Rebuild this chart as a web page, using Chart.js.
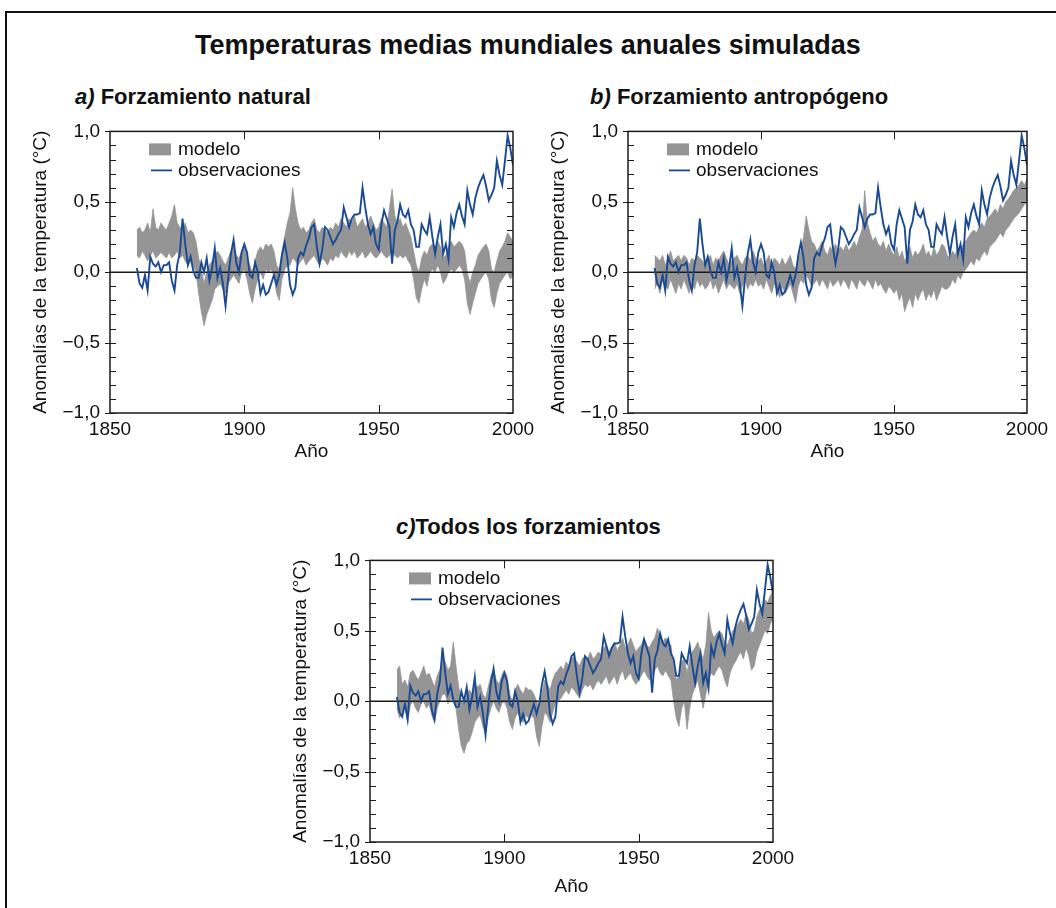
<!DOCTYPE html>
<html>
<head>
<meta charset="utf-8">
<script src="https://cdn.jsdelivr.net/npm/chart.js@4.4.1/dist/chart.umd.min.js"></script>
<style>
  body { margin: 0; background: #fff; }
  #page { position: relative; width: 1056px; height: 908px; overflow: hidden; font-family: "Liberation Sans", Arial, sans-serif; color: #111; }
  #frame { position: absolute; left: 5px; top: 11px; width: 1100px; height: 1000px; border-left: 2px solid #111; border-top: 2px solid #111; }
  .txt { position: absolute; white-space: nowrap; font-weight: bold; }
  .txt i { font-style: italic; }
  canvas { position: absolute; }
</style>
</head>
<body>
<div id="page">
  <div id="frame"></div>
  <div class="txt" style="left:0;width:1056px;text-align:center;top:30px;font-size:27px;line-height:30px;">Temperaturas medias mundiales anuales simuladas</div>
  <div class="txt" style="left:75px;top:86px;font-size:22px;line-height:22px;"><i>a)</i> Forzamiento natural</div>
  <div class="txt" style="left:590px;top:86px;font-size:22px;line-height:22px;"><i>b)</i> Forzamiento antropógeno</div>
  <div class="txt" style="left:396px;top:516px;font-size:22px;line-height:22px;"><i>c)</i>Todos los forzamientos</div>
  <canvas id="chartA" width="520" height="363" style="left:20px;top:110px;"></canvas>
  <canvas id="chartB" width="516" height="363" style="left:538px;top:110px;"></canvas>
  <canvas id="chartC" width="520" height="363" style="left:280px;top:539px;"></canvas>
</div>
<script>
// años 1860-2000
const years = Array.from({ length: 141 }, (_, i) => 1860 + i);

// observaciones (igual en los tres paneles)
const obs = [
  0.03, -0.08, -0.11, -0.02, -0.13, 0.11, 0.06, 0.04, 0.07, 0.00,
  0.05, 0.05, 0.07, -0.06, -0.13, 0.05, 0.14, 0.38, 0.20, 0.05,
  0.11, 0.01, -0.04, -0.04, 0.07, 0.00, 0.10, -0.06, 0.03, 0.17,
  -0.04, 0.03, -0.08, -0.24, -0.04, 0.13, 0.23, 0.07, 0.00, 0.14,
  0.20, 0.14, -0.02, -0.04, 0.07, 0.00, -0.15, -0.09, -0.16, -0.14,
  -0.08, -0.02, -0.09, -0.02, 0.12, 0.21, 0.10, -0.09, -0.16, -0.11,
  0.10, 0.14, 0.12, 0.19, 0.24, 0.32, 0.34, 0.18, 0.06, 0.16,
  0.32, 0.30, 0.25, 0.20, 0.23, 0.27, 0.30, 0.46, 0.39, 0.32,
  0.38, 0.41, 0.41, 0.42, 0.60, 0.46, 0.34, 0.27, 0.32, 0.20,
  0.16, 0.34, 0.44, 0.38, 0.32, 0.06, 0.30, 0.36, 0.48, 0.41,
  0.39, 0.44, 0.34, 0.30, 0.18, 0.18, 0.34, 0.30, 0.27, 0.39,
  0.25, 0.13, 0.25, 0.34, 0.13, 0.20, 0.09, 0.39, 0.32, 0.42,
  0.48, 0.40, 0.34, 0.58, 0.48, 0.41, 0.53, 0.60, 0.65, 0.69,
  0.61, 0.51, 0.55, 0.60, 0.79, 0.69, 0.62, 0.79, 0.97, 0.88,
  0.76
];

// a) forzamiento natural: rango del modelo
const natLo = [
  0.12, 0.10, 0.15, 0.12, 0.08, 0.12, 0.15, 0.10, 0.12, 0.14,
  0.12, 0.10, 0.14, 0.10, 0.12, 0.15, 0.10, 0.12, 0.08, 0.05,
  0.08, 0.05, 0.00, -0.15, -0.28, -0.38, -0.30, -0.25, -0.20, -0.12,
  -0.10, -0.08, -0.12, -0.15, -0.08, -0.05, -0.02, -0.05, -0.08, 0.00,
  0.02, -0.05, -0.15, -0.22, -0.12, -0.05, 0.00, -0.05, 0.02, 0.00,
  0.02, -0.02, -0.15, -0.20, -0.05, 0.02, 0.05, 0.05, 0.10, 0.08,
  0.05, 0.08, 0.10, 0.05, 0.08, 0.10, 0.12, 0.08, 0.05, 0.10,
  0.08, 0.05, 0.10, 0.08, 0.12, 0.10, 0.15, 0.12, 0.10, 0.15,
  0.12, 0.15, 0.10, 0.12, 0.15, 0.10, 0.12, 0.15, 0.12, 0.10,
  0.12, 0.15, 0.12, 0.10, 0.12, 0.15, 0.12, 0.10, 0.12, 0.10,
  0.12, 0.08, 0.05, -0.05, -0.18, -0.22, -0.12, -0.05, -0.10, 0.00,
  0.02, 0.00, 0.05, 0.00, -0.08, -0.05, 0.00, 0.02, 0.00, 0.02,
  0.05, 0.02, -0.05, -0.22, -0.30, -0.22, -0.15, -0.08, -0.05, -0.02,
  0.00, -0.05, -0.20, -0.25, -0.15, -0.08, -0.05, -0.02, 0.00, -0.05,
  -0.02
];
const natHi = [
  0.30, 0.32, 0.28, 0.30, 0.35, 0.28, 0.45, 0.32, 0.30, 0.35,
  0.32, 0.30, 0.35, 0.40, 0.48, 0.35, 0.32, 0.30, 0.35, 0.28,
  0.30, 0.28, 0.22, 0.10, 0.02, -0.08, 0.00, 0.05, 0.08, 0.12,
  0.15, 0.12, 0.08, 0.05, 0.10, 0.15, 0.18, 0.12, 0.10, 0.15,
  0.20, 0.12, 0.05, 0.00, 0.08, 0.15, 0.18, 0.15, 0.20, 0.18,
  0.20, 0.15, 0.05, 0.02, 0.15, 0.25, 0.35, 0.42, 0.60, 0.45,
  0.35, 0.30, 0.32, 0.28, 0.30, 0.35, 0.38, 0.30, 0.28, 0.32,
  0.30, 0.28, 0.32, 0.30, 0.35, 0.32, 0.38, 0.35, 0.32, 0.38,
  0.35, 0.40, 0.32, 0.35, 0.38, 0.32, 0.35, 0.40, 0.35, 0.30,
  0.32, 0.38, 0.35, 0.32, 0.45, 0.59, 0.40, 0.35, 0.38, 0.32,
  0.35, 0.30, 0.25, 0.15, 0.05, 0.00, 0.10, 0.15, 0.12, 0.18,
  0.20, 0.18, 0.22, 0.18, 0.10, 0.12, 0.18, 0.22, 0.18, 0.20,
  0.22, 0.20, 0.15, 0.00, -0.08, 0.00, 0.05, 0.12, 0.15, 0.18,
  0.20, 0.15, 0.02, 0.00, 0.08, 0.15, 0.18, 0.22, 0.28, 0.25,
  0.22
];

// b) forzamiento antropógeno
const antLo = [
  -0.12, -0.08, -0.15, -0.05, -0.10, -0.12, -0.05, -0.10, -0.15, -0.08,
  -0.12, -0.05, -0.10, -0.15, -0.08, -0.12, -0.05, -0.10, -0.08, -0.12,
  -0.10, -0.05, -0.12, -0.08, -0.15, -0.10, -0.05, -0.12, -0.08, -0.10,
  -0.12, -0.08, -0.15, -0.10, -0.05, -0.12, -0.08, -0.10, -0.05, -0.10,
  -0.08, -0.12, -0.05, -0.10, -0.15, -0.08, -0.12, -0.18, -0.10, -0.15,
  -0.12, -0.08, -0.15, -0.22, -0.10, -0.05, -0.08, -0.02, -0.05, -0.10,
  -0.08, -0.05, -0.10, -0.05, -0.08, -0.12, -0.05, -0.10, -0.08, -0.05,
  -0.10, -0.05, -0.08, -0.12, -0.05, -0.08, -0.12, -0.05, -0.08, -0.10,
  -0.05, -0.08, -0.12, -0.05, -0.10, -0.08, -0.12, -0.15, -0.10, -0.12,
  -0.15, -0.12, -0.20, -0.15, -0.28, -0.22, -0.18, -0.25, -0.15, -0.20,
  -0.15, -0.12, -0.20, -0.15, -0.18, -0.12, -0.20, -0.15, -0.10, -0.12,
  -0.12, -0.10, -0.05, -0.08, -0.02, -0.05, 0.00, 0.02, 0.05, 0.08,
  0.05, 0.10, 0.08, 0.12, 0.15, 0.12, 0.18, 0.20, 0.22, 0.25,
  0.28, 0.25, 0.30, 0.32, 0.35, 0.38, 0.40, 0.42, 0.45, 0.48,
  0.50
];
const antHi = [
  0.12, 0.10, 0.08, 0.12, 0.05, 0.10, 0.15, 0.08, 0.10, 0.12,
  0.08, 0.12, 0.10, 0.05, 0.10, 0.08, 0.12, 0.10, 0.08, 0.05,
  0.08, 0.12, 0.05, 0.10, 0.08, 0.12, 0.15, 0.10, 0.05, 0.08,
  0.10, 0.12, 0.08, 0.05, 0.10, 0.12, 0.08, 0.15, 0.10, 0.08,
  0.10, 0.05, 0.08, 0.12, 0.05, 0.10, 0.08, 0.05, 0.10, 0.05,
  0.08, 0.12, 0.05, 0.02, 0.10, 0.15, 0.25, 0.40, 0.30, 0.22,
  0.20, 0.15, 0.18, 0.22, 0.15, 0.12, 0.18, 0.15, 0.20, 0.15,
  0.18, 0.15, 0.20, 0.15, 0.18, 0.22, 0.18, 0.25, 0.30, 0.58,
  0.35, 0.28, 0.22, 0.25, 0.20, 0.18, 0.22, 0.15, 0.20, 0.15,
  0.12, 0.18, 0.10, 0.15, 0.08, 0.12, 0.18, 0.10, 0.15, 0.12,
  0.15, 0.20, 0.12, 0.15, 0.10, 0.18, 0.12, 0.15, 0.20, 0.18,
  0.12, 0.10, 0.15, 0.12, 0.18, 0.15, 0.20, 0.22, 0.25, 0.28,
  0.30, 0.28, 0.32, 0.35, 0.32, 0.38, 0.40, 0.42, 0.45, 0.42,
  0.48, 0.45, 0.50, 0.52, 0.55, 0.58, 0.60, 0.62, 0.65, 0.62,
  0.66
];

// c) todos los forzamientos
const allLo = [
  -0.05, -0.12, -0.08, -0.02, -0.15, -0.03, 0.00, -0.05, -0.08, -0.02,
  0.00, -0.05, -0.02, -0.10, -0.15, -0.05, 0.00, 0.05, 0.05, -0.02,
  0.02, 0.00, -0.05, -0.20, -0.32, -0.37, -0.30, -0.28, -0.22, -0.15,
  -0.12, -0.10, -0.18, -0.22, -0.12, -0.05, 0.00, -0.05, -0.08, -0.02,
  0.00, -0.05, -0.15, -0.20, -0.12, -0.08, -0.12, -0.15, -0.10, -0.12,
  -0.10, -0.12, -0.25, -0.32, -0.18, -0.08, -0.10, -0.15, -0.08, -0.02,
  0.00, 0.02, 0.05, 0.08, 0.05, 0.10, 0.08, 0.05, 0.02, 0.08,
  0.12, 0.10, 0.12, 0.08, 0.12, 0.15, 0.12, 0.15, 0.18, 0.12,
  0.15, 0.18, 0.12, 0.18, 0.22, 0.15, 0.18, 0.20, 0.15, 0.12,
  0.15, 0.18, 0.22, 0.18, 0.15, 0.18, 0.22, 0.25, 0.20, 0.18,
  0.22, 0.18, 0.15, 0.00, -0.12, -0.18, -0.05, 0.00, -0.20, -0.05,
  0.05, 0.10, 0.15, 0.05, -0.05, 0.05, 0.15, 0.20, 0.18, 0.22,
  0.25, 0.22, 0.15, 0.10, 0.20, 0.25, 0.28, 0.32, 0.35, 0.30,
  0.38, 0.32, 0.22, 0.25, 0.35, 0.40, 0.45, 0.50, 0.48, 0.55,
  0.58
];
const allHi = [
  0.22, 0.25, 0.12, 0.15, 0.10, 0.20, 0.22, 0.18, 0.15, 0.20,
  0.25, 0.18, 0.20, 0.15, 0.10, 0.18, 0.22, 0.30, 0.28, 0.22,
  0.25, 0.42, 0.25, 0.10, 0.00, -0.02, 0.05, 0.08, 0.05, 0.12,
  0.10, 0.12, 0.05, 0.02, 0.10, 0.18, 0.22, 0.15, 0.12, 0.18,
  0.22, 0.18, 0.05, 0.00, 0.08, 0.12, 0.08, 0.05, 0.10, 0.08,
  0.08, 0.05, 0.00, -0.05, 0.05, 0.15, 0.12, 0.08, 0.15, 0.20,
  0.22, 0.25, 0.22, 0.28, 0.25, 0.30, 0.32, 0.28, 0.25, 0.30,
  0.32, 0.30, 0.35, 0.30, 0.32, 0.35, 0.33, 0.38, 0.40, 0.35,
  0.38, 0.42, 0.36, 0.40, 0.45, 0.38, 0.40, 0.45, 0.40, 0.35,
  0.38, 0.40, 0.45, 0.40, 0.38, 0.42, 0.45, 0.52, 0.45, 0.42,
  0.45, 0.42, 0.40, 0.25, 0.15, 0.18, 0.28, 0.30, 0.20, 0.30,
  0.35, 0.38, 0.42, 0.35, 0.30, 0.40, 0.63, 0.50, 0.45, 0.48,
  0.50, 0.48, 0.42, 0.40, 0.45, 0.50, 0.52, 0.55, 0.58, 0.55,
  0.62, 0.58, 0.48, 0.50, 0.60, 0.65, 0.68, 0.72, 0.70, 0.75,
  0.78
];

const xTickValues = [1850, 1900, 1950, 2000];
const yTickValues = [-1, -0.5, 0, 0.5, 1];
const yTickLabels = ['\u22121,0', '\u22120,5', '0,0', '0,5', '1,0'];
const legendLabels = ['modelo', 'observaciones'];

const bandColor = '#959595';
const obsColor = '#1a4a94';
const inkColor = '#1a1a1a';

Chart.defaults.font.family = '"Liberation Sans", Arial, sans-serif';
Chart.defaults.font.size = 19;
Chart.defaults.color = '#111';

const toPoints = arr => arr.map((v, i) => ({ x: years[i], y: v }));

// Chart.js pinta primero el último dataset: obs (0) queda encima,
// la banda es lo (1) + hi (2) rellenando hasta '-1'
const framePlugin = {
  id: 'frame',
  afterDatasetDraw(chart, args) {
    // línea del cero sobre la banda gris, bajo las observaciones
    if (args.index !== 1) return;
    const { ctx, chartArea: a, scales: { y } } = chart;
    const y0 = y.getPixelForValue(0);
    ctx.save();
    ctx.strokeStyle = inkColor;
    ctx.lineWidth = 1.5;
    ctx.beginPath();
    ctx.moveTo(a.left, y0);
    ctx.lineTo(a.right, y0);
    ctx.stroke();
    ctx.restore();
  },
  afterDraw(chart) {
    const { ctx, chartArea: a, scales: { x, y } } = chart;
    ctx.save();
    ctx.strokeStyle = inkColor;
    ctx.lineWidth = 1.5;
    ctx.strokeRect(a.left, a.top, a.right - a.left, a.bottom - a.top);
    ctx.lineWidth = 1;
    ctx.beginPath();
    for (let i = -10; i <= 10; i++) {
      const py = Math.round(y.getPixelForValue(i / 10)) + 0.5;
      const major = i % 5 === 0;
      ctx.moveTo(a.left - (major ? 5 : 0), py);
      ctx.lineTo(a.left + 6, py);
      ctx.moveTo(a.right - 6, py);
      ctx.lineTo(a.right, py);
    }
    xTickValues.slice(1, -1).forEach(v => {
      const px = Math.round(x.getPixelForValue(v)) + 0.5;
      ctx.moveTo(px, a.bottom);
      ctx.lineTo(px, a.bottom - 8);
      ctx.moveTo(px, a.top);
      ctx.lineTo(px, a.top + 8);
    });
    ctx.stroke();

    // leyenda
    const lx = a.left + 39;
    const r1 = a.top + 18;
    const r2 = a.top + 39;
    ctx.fillStyle = chart.data.datasets[2].backgroundColor;
    ctx.fillRect(lx, r1 - 6, 22, 12);
    ctx.strokeStyle = chart.data.datasets[0].borderColor;
    ctx.lineWidth = 1.8;
    ctx.beginPath();
    ctx.moveTo(lx + 2, r2);
    ctx.lineTo(lx + 23, r2);
    ctx.stroke();
    ctx.fillStyle = '#111';
    ctx.font = '19px "Liberation Sans", Arial, sans-serif';
    ctx.textBaseline = 'middle';
    ctx.fillText(legendLabels[0], lx + 29, r1);
    ctx.fillText(legendLabels[1], lx + 29, r2);
    ctx.restore();
  }
};

function makePanel(id, lo, hi, padRight, yearPad) {
  new Chart(document.getElementById(id), {
    type: 'line',
    data: {
      datasets: [
        { data: toPoints(obs), borderColor: obsColor, borderWidth: 1.9, pointRadius: 0, fill: false },
        { data: toPoints(lo), borderColor: bandColor, borderWidth: 0.8, pointRadius: 0, fill: false },
        { data: toPoints(hi), borderColor: bandColor, borderWidth: 0.8, backgroundColor: bandColor, pointRadius: 0, fill: '-1' }
      ]
    },
    options: {
      responsive: false,
      animation: false,
      layout: { padding: { top: 19, right: padRight, bottom: 0, left: 0 } },
      plugins: { legend: { display: false }, tooltip: { enabled: false } },
      scales: {
        x: {
          type: 'linear', min: 1850, max: 2000,
          afterBuildTicks: s => { s.ticks = xTickValues.map(v => ({ value: v })); },
          afterFit: s => { s.height = 60; },
          ticks: { padding: 5, maxRotation: 0, callback: v => String(v) },
          grid: { display: false, drawTicks: false },
          border: { display: false },
          title: { display: true, text: 'Año', padding: { top: 0, bottom: yearPad } }
        },
        y: {
          min: -1, max: 1,
          afterBuildTicks: s => { s.ticks = yTickValues.map(v => ({ value: v })); },
          afterFit: s => { s.width = 90; },
          ticks: { padding: 10, callback: v => yTickLabels[yTickValues.indexOf(v)] },
          grid: { display: false, drawTicks: false },
          border: { display: false },
          title: { display: true, text: 'Anomalías de la temperatura (°C)', padding: { top: 9, bottom: 0 } }
        }
      }
    },
    plugins: [framePlugin]
  });
}

makePanel('chartA', natLo, natHi, 27, 10);
makePanel('chartB', antLo, antHi, 27, 10);
makePanel('chartC', allLo, allHi, 27, 4);
</script>
</body>
</html>
